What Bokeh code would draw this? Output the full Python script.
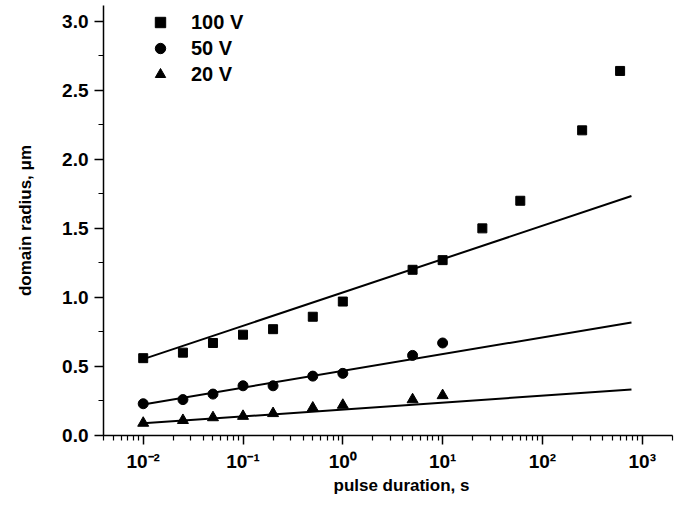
from bokeh.plotting import figure
from bokeh.models import (FixedTicker, SingleIntervalTicker, Range1d, Legend,
                          LegendItem, PrintfTickFormatter, Title)
from bokeh.embed import file_html
from bokeh.resources import INLINE

# ---- data ----
t100 = [0.01, 0.025, 0.05, 0.1, 0.2, 0.5, 1, 5, 10, 25, 60, 250, 600]
r100 = [0.56, 0.60, 0.67, 0.73, 0.77, 0.86, 0.97, 1.20, 1.27, 1.50, 1.70, 2.21, 2.64]
t50 = [0.01, 0.025, 0.05, 0.1, 0.2, 0.5, 1, 5, 10]
r50 = [0.23, 0.26, 0.30, 0.36, 0.36, 0.43, 0.45, 0.58, 0.67]
t20 = [0.01, 0.025, 0.05, 0.1, 0.2, 0.5, 1, 5, 10]
r20 = [0.09, 0.11, 0.13, 0.14, 0.16, 0.20, 0.22, 0.26, 0.29]

fit_t = [0.01, 780]
fit100 = [0.553, 1.734]
fit50 = [0.225, 0.819]
fit20 = [0.088, 0.333]

series_labels = ["100 V", "50 V", "20 V"]
x_title = "pulse duration, s"
y_title = "domain radius, \u03bcm"
x_major = [1e-2, 1e-1, 1e0, 1e1, 1e2, 1e3]
x_major_labels = ["10\u207b\u00b2", "10\u207b\u00b9", "10\u2070", "10\u00b9", "10\u00b2", "10\u00b3"]
x_minor = [k * 10.0 ** n for n in range(-3, 4) for k in range(2, 10)]
x_minor = [v for v in x_minor if 0.0039 <= v <= 2010]

FONT = "Liberation Sans"

p = figure(width=688, height=514, x_axis_type="log",
           x_range=Range1d(0.004, 2010), y_range=Range1d(0, 3.114),
           output_backend="svg", toolbar_location=None,
           min_border_left=103, min_border_right=16,
           min_border_top=5, min_border_bottom=79)
p.outline_line_color = None
p.grid.visible = False
p.background_fill_color = "white"

# fit lines
for fy in (fit100, fit50, fit20):
    p.line(fit_t, fy, line_color="black", line_width=2)

rs = p.scatter(t100, r100, marker="square", size=9, color="black")
rc = p.scatter(t50, r50, marker="circle", size=10, color="black")
rt = p.scatter(t20, r20, marker="triangle", size=11, color="black")

# axes
xa = p.xaxis[0]
xa.ticker = FixedTicker(ticks=x_major, minor_ticks=x_minor)
xa.major_label_overrides = {v: s for v, s in zip(x_major, x_major_labels)}

ya = p.yaxis[0]
ya.ticker = SingleIntervalTicker(interval=0.5, num_minor_ticks=2)
ya.formatter = PrintfTickFormatter(format="%.1f")
ya.axis_label = y_title

for ax in (xa, ya):
    ax.axis_line_color = "black"
    ax.axis_line_width = 1.5
    ax.major_tick_line_color = "black"
    ax.minor_tick_line_color = "black"
    ax.major_tick_line_width = 1.5
    ax.minor_tick_line_width = 1.2
    ax.major_tick_in = 0
    ax.minor_tick_in = 0
    ax.major_tick_out = 9
    ax.minor_tick_out = 5
    ax.major_label_text_font = FONT
    ax.major_label_text_font_style = "bold"
    ax.major_label_text_font_size = "19px"
    ax.major_label_text_color = "black"
    ax.axis_label_text_font = FONT
    ax.axis_label_text_font_style = "bold"
    ax.axis_label_text_font_size = "17px"
    ax.axis_label_text_color = "black"

xa.major_label_standoff = 6
ya.major_label_standoff = 6
ya.axis_label_standoff = 24

# x-axis title, placed as in the reference (slightly right of centre)
xt = Title(text=x_title, align="left", offset=230, standoff=0,
           text_font=FONT, text_font_style="bold", text_font_size="17px",
           text_color="black", vertical_align="middle")
p.add_layout(xt, "below")

legend = Legend(items=[LegendItem(label=series_labels[0], renderers=[rs]),
                       LegendItem(label=series_labels[1], renderers=[rc]),
                       LegendItem(label=series_labels[2], renderers=[rt])],
                location=(43, 348), orientation="vertical",
                label_text_font=FONT, label_text_font_style="bold",
                label_text_font_size="20px", label_text_color="black",
                label_standoff=17, glyph_width=28, glyph_height=26,
                spacing=0, padding=0, margin=0,
                border_line_color=None, background_fill_alpha=0)
p.add_layout(legend)

open("out.html", "w").write(file_html(p, INLINE))
